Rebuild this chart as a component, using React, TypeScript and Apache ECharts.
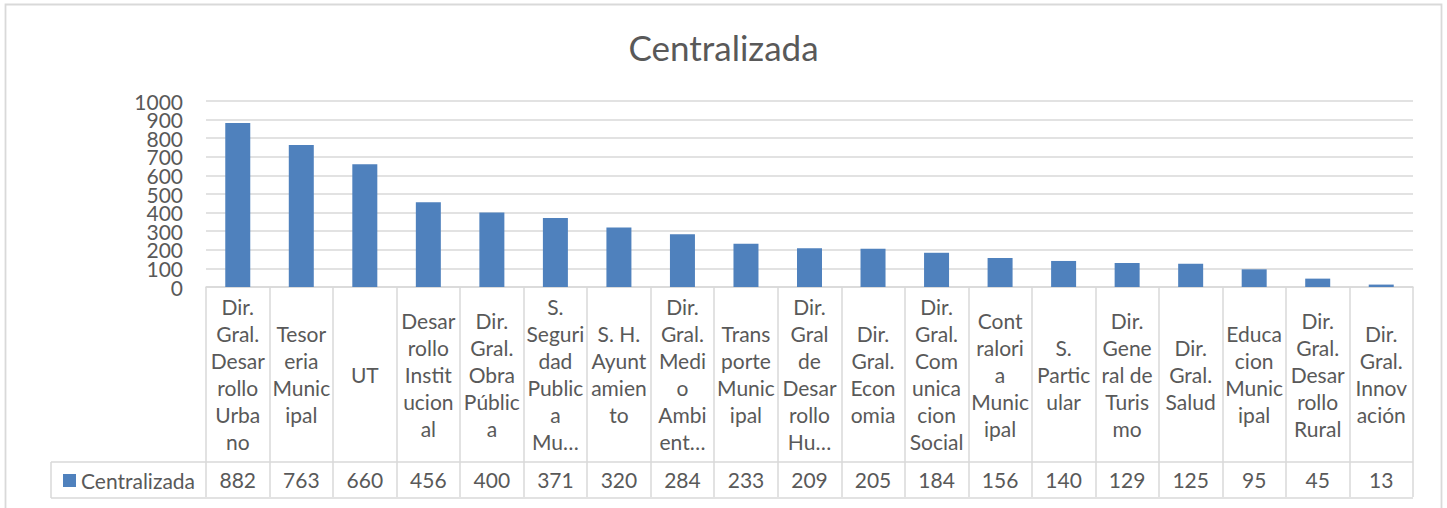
import React, { useEffect, useRef } from "react";
import * as echarts from "echarts";

const seriesName = "Centralizada";
const categories: string[] = [
  "Dir.\nGral.\nDesar\nrollo\nUrba\nno",
  "Tesor\neria\nMunic\nipal",
  "UT",
  "Desar\nrollo\nInstit\nucion\nal",
  "Dir.\nGral.\nObra\nPúblic\na",
  "S.\nSeguri\ndad\nPublic\na\nMu…",
  "S. H.\nAyunt\namien\nto",
  "Dir.\nGral.\nMedi\no\nAmbi\nent…",
  "Trans\nporte\nMunic\nipal",
  "Dir.\nGral\nde\nDesar\nrollo\nHu…",
  "Dir.\nGral.\nEcon\nomia",
  "Dir.\nGral.\nCom\nunica\ncion\nSocial",
  "Cont\nralori\na\nMunic\nipal",
  "S.\nPartic\nular",
  "Dir.\nGene\nral de\nTuris\nmo",
  "Dir.\nGral.\nSalud",
  "Educa\ncion\nMunic\nipal",
  "Dir.\nGral.\nDesar\nrollo\nRural",
  "Dir.\nGral.\nInnov\nación",
];
const values: number[] = [882, 763, 660, 456, 400, 371, 320, 284, 233, 209, 205, 184, 156, 140, 129, 125, 95, 45, 13];
const yMin = 0;
const yMax = 1000;
const yInterval = 100;
const yLabelsEven: number[] = [0, 200, 400, 600, 800, 1000];
const yLabelsOdd: number[] = [100, 300, 500, 700, 900];

const FONT = "Lato, 'Open Sans', sans-serif";
const TXT = "#595959";
const LINE = "#d9d9d9";
const BLUE = "#4f81bd";

export default function App() {
  const ref = useRef<HTMLDivElement>(null);
  useEffect(() => {
    if (!ref.current) return;
    const chart = echarts.init(ref.current, null, { renderer: "svg" });
    const W = 1447;
    const gridLeft = 206;
    const gridRight = 34;
    const gridTop = 101;
    const gridBottom = 221;
    const axisY = 508 - gridBottom; // 287
    const rowH = 174;
    const valRowH = 36;
    const yLabelStyle = {
      fontSize: 21,
      fontFamily: FONT,
      color: TXT,
      margin: 23,
      formatter: (v: number) => String(v),
    };
    chart.setOption({
      animation: false,
      backgroundColor: "#ffffff",
      textStyle: { fontFamily: FONT },
      title: {
        text: seriesName,
        left: "center",
        top: 24,
        textStyle: { fontFamily: FONT, fontSize: 35, fontWeight: "normal", color: TXT },
      },
      legend: {
        data: [seriesName],
        left: 58,
        top: 465,
        icon: "rect",
        itemWidth: 13,
        itemHeight: 13,
        itemGap: 6,
        textStyle: { fontFamily: FONT, fontSize: 21, color: TXT },
      },
      grid: { left: gridLeft, right: gridRight, top: gridTop, bottom: gridBottom, containLabel: false },
      xAxis: [
        {
          type: "category",
          data: categories,
          position: "bottom",
          axisLine: { show: true, lineStyle: { color: LINE, width: 1.5 } },
          axisTick: {
            show: true,
            interval: 0,
            length: rowH + valRowH,
            alignWithLabel: false,
            lineStyle: { color: LINE, width: 1.5 },
          },
          axisLabel: {
            interval: 0,
            margin: rowH / 2,
            verticalAlign: "middle",
            align: "center",
            lineHeight: 27,
            fontSize: 21,
            fontFamily: FONT,
            color: TXT,
          },
        },
        {
          type: "category",
          data: values.map(String),
          position: "bottom",
          offset: rowH,
          axisLine: { show: false },
          axisTick: { show: false },
          axisLabel: {
            interval: 0,
            margin: valRowH / 2,
            verticalAlign: "middle",
            fontSize: 21,
            fontFamily: FONT,
            color: TXT,
          },
        },
      ],
      yAxis: [
        {
          type: "value",
          position: "left",
          min: yMin,
          max: yMax,
          interval: yInterval,
          axisLine: { show: false },
          axisTick: { show: false },
          splitLine: { show: true, lineStyle: { color: LINE, width: 1.5 } },
          axisLabel: { ...yLabelStyle, customValues: yLabelsEven },
        },
        {
          type: "value",
          position: "left",
          offset: 0,
          min: yMin,
          max: yMax,
          interval: yInterval,
          axisLine: { show: false },
          axisTick: { show: false },
          splitLine: { show: false },
          axisLabel: { ...yLabelStyle, customValues: yLabelsOdd },
        },
      ],
      series: [
        {
          name: seriesName,
          type: "bar",
          xAxisIndex: 0,
          yAxisIndex: 0,
          data: values,
          barWidth: 25,
          itemStyle: { color: BLUE },
        },
      ],
      graphic: [
        {
          type: "rect",
          silent: true,
          shape: { x: 5.5, y: 4.5, width: 1436, height: 560 },
          style: { fill: "none", stroke: LINE, lineWidth: 1.8 },
        },
        {
          type: "line",
          silent: true,
          shape: { x1: 51, y1: axisY + rowH + 1, x2: W - gridRight, y2: axisY + rowH + 1 },
          style: { stroke: LINE, lineWidth: 1.5 },
        },
        {
          type: "line",
          silent: true,
          shape: { x1: 51, y1: axisY + rowH + valRowH + 1, x2: W - gridRight, y2: axisY + rowH + valRowH + 1 },
          style: { stroke: LINE, lineWidth: 1.5 },
        },
        {
          type: "line",
          silent: true,
          shape: { x1: 51, y1: axisY + rowH + 1, x2: 51, y2: axisY + rowH + valRowH + 1 },
          style: { stroke: LINE, lineWidth: 1.5 },
        },
      ],
    });
    return () => chart.dispose();
  }, []);
  return (
    <div
      ref={ref}
      style={{ position: "absolute", left: 0, top: 0, width: 1447, height: 508, background: "#fff" }}
    />
  );
}
